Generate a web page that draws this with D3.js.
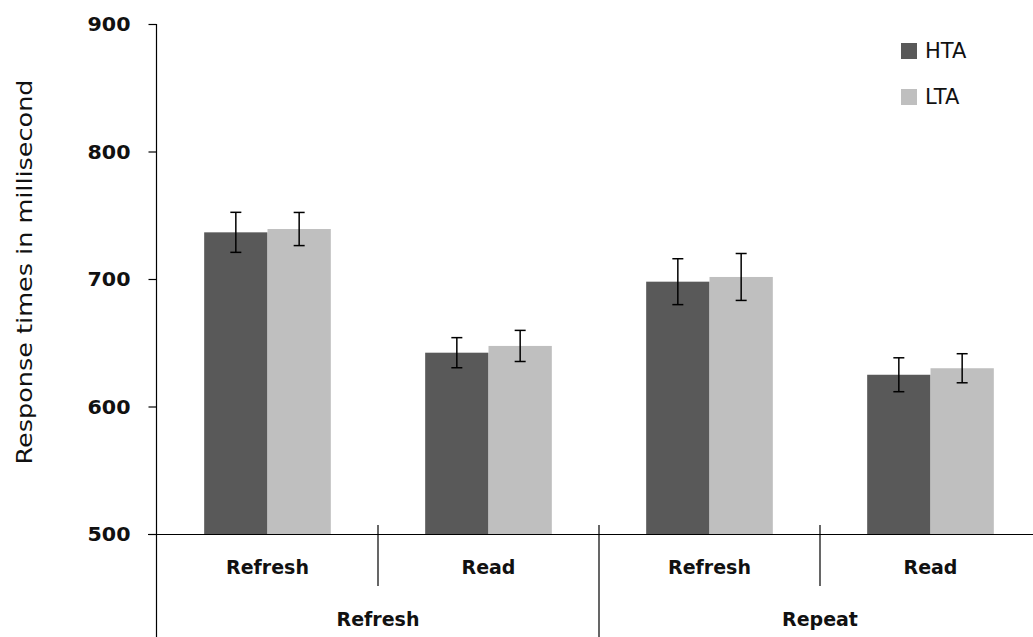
<!DOCTYPE html>
<html><head><meta charset="utf-8">
<script src="https://cdn.jsdelivr.net/npm/d3@7"></script>
<style>body{margin:0;background:#fff}svg{display:block}</style>
</head><body>
<svg id="c" width="1033" height="637"></svg>
<script>
const categories = ["Refresh", "Read", "Refresh", "Read"];
const groups = ["Refresh", "Repeat"];
const series = ["HTA", "LTA"];
const htaValues = [736.6, 642.2, 697.9, 624.9];
const ltaValues = [739.2, 647.5, 701.6, 630.0];
const htaErrors = [15.7, 11.8, 18.0, 13.3];
const ltaErrors = [13.0, 12.2, 18.4, 11.4];
const yTicks = [500, 600, 700, 800, 900];
const colors = {HTA: "#595959", LTA: "#bfbfbf"};

const svg = d3.select("#c");
const x0 = 157, xEnd = 1041, yBase = 534, yTop = 24;
const y = d3.scaleLinear().domain([500, 900]).range([yBase, yTop]);
const xBand = d3.scaleBand().domain(d3.range(categories.length)).range([x0, xEnd]).paddingInner(0).paddingOuter(0);
const bw = xBand.bandwidth();
const inner = d3.scaleBand().domain(series).range([0, bw]).paddingOuter(0.745).paddingInner(0);

const data = categories.map((c, i) => ({i, c, vals: [
  {s: "HTA", v: htaValues[i], e: htaErrors[i]},
  {s: "LTA", v: ltaValues[i], e: ltaErrors[i]}
]}));

// bars
const g = svg.append("g");
const cat = g.selectAll("g.cat").data(data).join("g").attr("transform", d => `translate(${xBand(d.i)},0)`);
cat.selectAll("rect").data(d => d.vals).join("rect")
  .attr("x", d => inner(d.s)).attr("width", inner.bandwidth())
  .attr("y", d => y(d.v)).attr("height", d => y(500) - y(d.v))
  .attr("fill", d => colors[d.s]);
// error bars
const eb = cat.selectAll("g.eb").data(d => d.vals).join("g").attr("stroke", "#000").attr("stroke-width", 1.5);
eb.append("line").attr("x1", d => inner(d.s) + inner.bandwidth()/2).attr("x2", d => inner(d.s) + inner.bandwidth()/2)
  .attr("y1", d => y(d.v + d.e)).attr("y2", d => y(d.v - d.e));
eb.append("line").attr("x1", d => inner(d.s) + inner.bandwidth()/2 - 5.5).attr("x2", d => inner(d.s) + inner.bandwidth()/2 + 5.5)
  .attr("y1", d => y(d.v + d.e)).attr("y2", d => y(d.v + d.e));
eb.append("line").attr("x1", d => inner(d.s) + inner.bandwidth()/2 - 5.5).attr("x2", d => inner(d.s) + inner.bandwidth()/2 + 5.5)
  .attr("y1", d => y(d.v - d.e)).attr("y2", d => y(d.v - d.e));

// y axis
const yAxis = d3.axisLeft(y).tickValues(yTicks).tickSize(8).tickPadding(18).tickFormat(d3.format("d"));
const ya = svg.append("g").attr("transform", `translate(${x0 - 0.5},0)`).call(yAxis);
ya.select(".domain").remove();
ya.append("line").attr("x1", 0).attr("x2", 0).attr("y1", yTop).attr("y2", 637).attr("stroke", "#000").attr("stroke-width", 1.2);
ya.selectAll(".tick line").attr("stroke", "#000").attr("stroke-width", 1.2);
ya.selectAll(".tick text").attr("fill", "#111").style("font-family", "DejaVu Sans").style("font-weight", "bold").style("font-size", "19px")
  .attr("textLength", 43).attr("lengthAdjust", "spacingAndGlyphs").attr("dy", "0.36em");

// x axis line
svg.append("line").attr("x1", 148).attr("x2", 1033).attr("y1", yBase + 0.5).attr("y2", yBase + 0.5).attr("stroke", "#000").attr("stroke-width", 1.2);

// separators
[1, 3].forEach(i => svg.append("line").attr("x1", xBand(i)).attr("x2", xBand(i)).attr("y1", 525).attr("y2", 586).attr("stroke", "#000").attr("stroke-width", 1.2));
svg.append("line").attr("x1", xBand(2)).attr("x2", xBand(2)).attr("y1", 525).attr("y2", 637).attr("stroke", "#000").attr("stroke-width", 1.2);

// category labels
svg.append("g").selectAll("text").data(data).join("text")
  .attr("x", d => xBand(d.i) + bw/2).attr("y", 574).attr("text-anchor", "middle")
  .style("font-family", "DejaVu Sans").style("font-weight", "bold").style("font-size", "19px").attr("fill", "#111")
  .text(d => d.c);
svg.append("g").selectAll("text").data(groups).join("text")
  .attr("x", (d, i) => (xBand(i*2) + xBand(i*2+1) + bw) / 2).attr("y", 626).attr("text-anchor", "middle")
  .style("font-family", "DejaVu Sans").style("font-weight", "bold").style("font-size", "19px").attr("fill", "#111")
  .text(d => d);

// y title
svg.append("text").attr("transform", "translate(32,272) rotate(-90)").attr("text-anchor", "middle")
  .style("font-family", "DejaVu Sans").style("font-size", "22px").attr("fill", "#111")
  .attr("textLength", 385).attr("lengthAdjust", "spacingAndGlyphs")
  .text("Response times  in millisecond");

// legend
const leg = svg.append("g").selectAll("g").data(series).join("g").attr("transform", (d, i) => `translate(901,${43 + i*46})`);
leg.append("rect").attr("width", 16).attr("height", 16).attr("fill", d => colors[d]);
leg.append("text").attr("x", 24).attr("y", 15).style("font-family", "DejaVu Sans").style("font-size", "21px").attr("fill", "#111").text(d => d);
</script>
</body></html>
